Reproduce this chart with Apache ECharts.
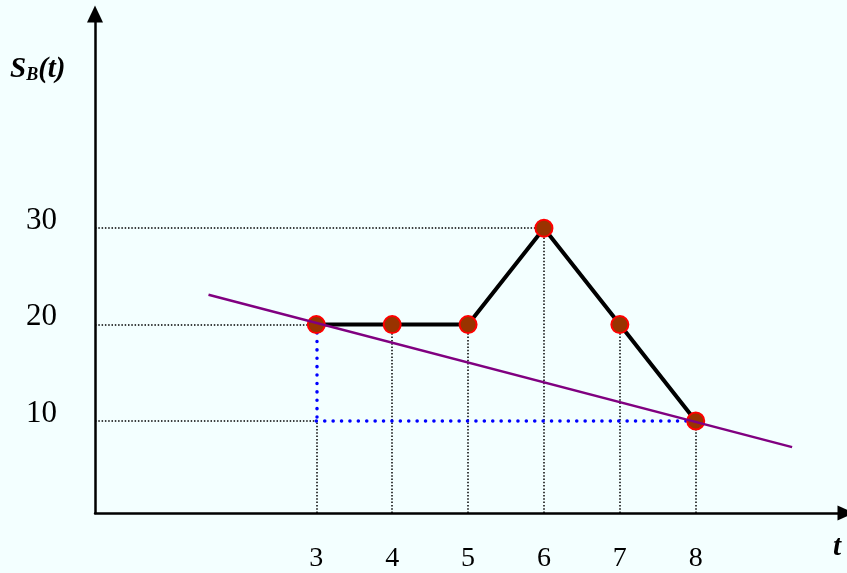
<!DOCTYPE html>
<html><head><meta charset="utf-8">
<script src="https://cdn.jsdelivr.net/npm/echarts@6/dist/echarts.min.js"></script>
<style>html,body{margin:0;padding:0;background:#F3FFFF;}#c{width:847px;height:573px;}</style>
</head><body><div id="c"></div>
<script>
const tValues = [3, 4, 5, 6, 7, 8];
const sValues = [20, 20, 20, 30, 20, 10];
const xTickLabels = [3, 4, 5, 6, 7, 8];
const yTickLabels = [10, 20, 30];
const hGuideEnds = [3, 3, 6];          // t where each horizontal dotted guide ends
const blueT = [3, 3, 8];
const blueS = [20, 10, 10];
const trendT = [1.58, 9.27];
const trendS = [23.1, 7.3];

const X_MIN = 0.084, X_MAX = 9.98, Y_MIN = 0.47, Y_MAX = 52.2;

const blackGuides = [];
yTickLabels.forEach((v, i) => blackGuides.push({coords: [[X_MIN, v], [hGuideEnds[i], v]]}));
tValues.forEach((t, i) => {
  const top = (t === blueT[0]) ? blueS[1] : sValues[i];
  blackGuides.push({coords: [[t, Y_MIN], [t, top]]});
});
const blueGuides = [];
for (let i = 0; i < blueT.length - 1; i++) blueGuides.push({coords: [[blueT[i], blueS[i]], [blueT[i+1], blueS[i+1]]]});

const chart = echarts.init(document.getElementById('c'), null, {renderer: 'canvas'});
const serif = 'Liberation Serif, Times New Roman, serif';
chart.setOption({
  backgroundColor: '#F3FFFF',
  animation: false,
  grid: {left: 95, right: 1, top: 14, bottom: 60, containLabel: false},
  xAxis: {
    type: 'value', min: X_MIN, max: X_MAX,
    splitLine: {show: false},
    axisTick: {show: false},
    axisLine: {show: true, onZero: false, symbol: ['none', 'triangle'], symbolSize: [15, 17],
      lineStyle: {color: '#000', width: 2.5}},
    axisLabel: {customValues: xTickLabels, margin: 32, fontSize: 28, fontFamily: serif, color: '#000'}
  },
  yAxis: {
    type: 'value', min: Y_MIN, max: Y_MAX,
    splitLine: {show: false},
    axisTick: {show: false},
    axisLine: {show: true, onZero: false, symbol: ['none', 'triangle'], symbolSize: [16, 17],
      lineStyle: {color: '#000', width: 2.5}},
    axisLabel: {customValues: yTickLabels, margin: 38, fontSize: 31, fontFamily: serif, color: '#000',
      verticalAlign: 'bottom', lineHeight: 15}
  },
  series: [
    {type: 'lines', coordinateSystem: 'cartesian2d', polyline: false, z: 1,
      lineStyle: {color: '#000', width: 1.5, type: [1.5, 1.8], opacity: 1}, data: blackGuides},
    {type: 'lines', coordinateSystem: 'cartesian2d', polyline: false, z: 2,
      lineStyle: {color: '#0000FF', width: 3.5, type: [0.1, 8.3], cap: 'round', opacity: 1}, data: blueGuides},
    {type: 'line', z: 3, data: tValues.map((t, i) => [t, sValues[i]]),
      lineStyle: {color: '#000', width: 4}, symbol: 'circle', symbolSize: 17,
      itemStyle: {color: '#993300', borderColor: '#FF0000', borderWidth: 2}},
    {type: 'line', z: 4, data: trendT.map((t, i) => [t, trendS[i]]), symbol: 'none',
      lineStyle: {color: '#800080', width: 2.5}}
  ],
  graphic: [
    {type: 'text', left: 10, top: 55, style: {
      text: '{s|S}{b|B}{s|(t)}',
      rich: {
        s: {fontSize: 29, fontWeight: 'bold', fontStyle: 'italic', fontFamily: serif, fill: '#000'},
        b: {fontSize: 18, fontWeight: 'bold', fontStyle: 'italic', fontFamily: serif, fill: '#000', verticalAlign: 'bottom', padding: [9, 0, 0, 0]}
      }}},
    {type: 'text', left: 833, top: 533, style: {text: 't', fontSize: 29, fontWeight: 'bold', fontStyle: 'italic', fontFamily: serif, fill: '#000'}}
  ]
});
</script></body></html>
